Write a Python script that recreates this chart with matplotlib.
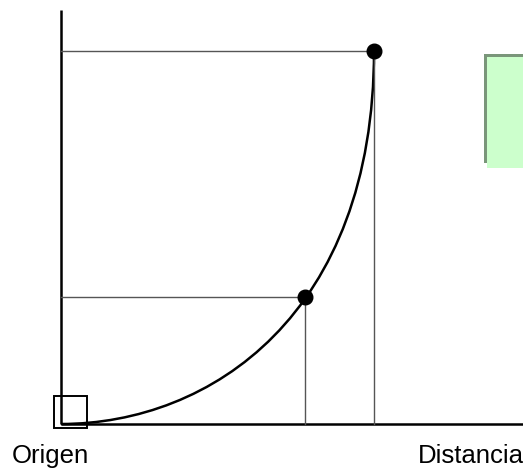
import matplotlib
matplotlib.use("Agg")
import matplotlib.pyplot as plt
from matplotlib.patches import Rectangle, PathPatch
from matplotlib.path import Path

plt.rcParams['font.family'] = ['Liberation Sans', 'DejaVu Sans']

# curve as a cubic bezier: start, two control points, end (distance, height)
curve_x = [0, 150, 313, 313]
curve_y = [0, 0, 110, 373]

# marked points on the curve
point_x = [244, 313]
point_y = [127, 373]

axis_labels = ["Origen", "Distancia"]

fig = plt.figure(figsize=(5.23, 4.70), dpi=100)
ax = fig.add_axes([0, 0, 1, 1])
ax.set_xlim(-61, 462)
ax.set_ylim(-46, 424)
ax.axis('off')

# axes lines
ax.plot([0, 0], [0, 414], color='black', lw=1.8, solid_capstyle='butt')
ax.plot([0, 470], [0, 0], color='black', lw=1.8, solid_capstyle='butt')

# guide lines to the marked points
for px, py in zip(point_x, point_y):
    ax.plot([0, px], [py, py], color='#555555', lw=1.0)
    ax.plot([px, px], [0, py], color='#555555', lw=1.0)

verts = list(zip(curve_x, curve_y))
path = Path(verts, [Path.MOVETO, Path.CURVE4, Path.CURVE4, Path.CURVE4])
ax.add_patch(PathPatch(path, facecolor='none', edgecolor='black', lw=1.8))
ax.plot(point_x, point_y, 'o', color='black', markersize=10.5)

# small square at the origin
ax.add_patch(Rectangle((-7, -4), 33, 32, fill=False, edgecolor='black', lw=1.4))

# green box (cut off on the right)
ax.add_patch(Rectangle((423, 261), 120, 109, facecolor='#7a967a', edgecolor='none', clip_on=False))
ax.add_patch(Rectangle((426, 256), 120, 111, facecolor='#ccffcc', edgecolor='none', clip_on=False))

ax.text(-49, -39, axis_labels[0], fontsize=18.5, va='baseline', ha='left')
ax.text(357, -39, axis_labels[1], fontsize=18.5, va='baseline', ha='left')

fig.savefig("out.png", dpi=100)
